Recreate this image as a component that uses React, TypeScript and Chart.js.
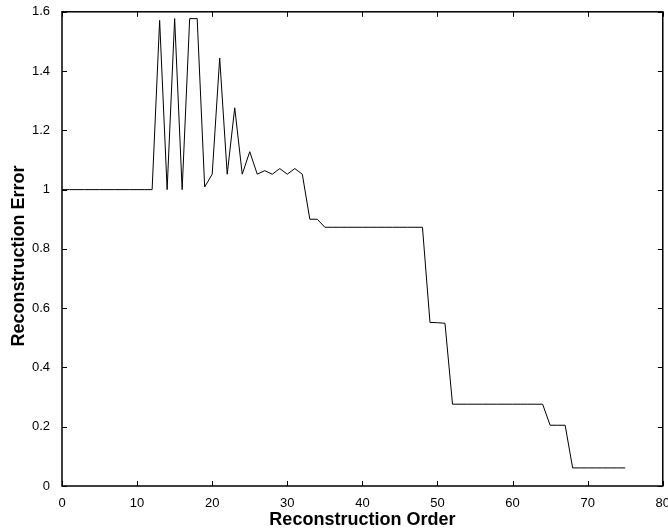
import React, { useEffect, useRef } from "react";
import { Chart, registerables } from "chart.js";

Chart.register(...registerables);

const orders = [
  0, 1, 2, 3, 4, 5, 6, 7, 8, 9, 10, 11, 12, 13, 14, 15, 16, 17, 18, 19, 20,
  21, 22, 23, 24, 25, 26, 27, 28, 29, 30, 31, 32, 33, 34, 35, 36, 37, 38, 39,
  40, 41, 42, 43, 44, 45, 46, 47, 48, 49, 50, 51, 52, 53, 54, 55, 56, 57, 58,
  59, 60, 61, 62, 63, 64, 65, 66, 67, 68, 69, 70, 71, 72, 73, 74, 75,
];

const errors = [
  1, 1, 1, 1, 1, 1, 1, 1, 1, 1, 1, 1, 1,
  1.571, 1.0, 1.577, 1.0, 1.577, 1.577, 1.009, 1.052, 1.444, 1.052, 1.276,
  1.052, 1.128, 1.052, 1.064, 1.052, 1.071, 1.052, 1.071, 1.052, 0.9, 0.9,
  0.873, 0.873, 0.873, 0.873, 0.873, 0.873, 0.873, 0.873, 0.873, 0.873,
  0.873, 0.873, 0.873, 0.873,
  0.552, 0.551, 0.549,
  0.276, 0.276, 0.276, 0.276, 0.276, 0.276, 0.276, 0.276, 0.276, 0.276,
  0.276, 0.276, 0.276,
  0.205, 0.205, 0.205,
  0.061, 0.061, 0.061, 0.061, 0.061, 0.061, 0.061, 0.061,
];

const xTicks = [0, 10, 20, 30, 40, 50, 60, 70, 80];
const yTicks = [0, 0.2, 0.4, 0.6, 0.8, 1, 1.2, 1.4, 1.6];
const yTickLabels = ["0", "0.2", "0.4", "0.6", "0.8", "1", "1.2", "1.4", "1.6"];
const xTitle = "Reconstruction Order";
const yTitle = "Reconstruction Error";

const FONT = "'Liberation Sans', Arial, Helvetica, sans-serif";

const boxPlugin = {
  id: "matlabBox",
  afterDraw(chart: any) {
    const { ctx, chartArea, scales } = chart;
    const { left, right, top, bottom } = chartArea;
    ctx.save();
    ctx.strokeStyle = "#000";
    ctx.lineWidth = 1;
    const len = 5;
    ctx.beginPath();
    for (const v of xTicks) {
      const px = Math.round(scales.x.getPixelForValue(v)) + 0.5;
      ctx.moveTo(px, bottom);
      ctx.lineTo(px, bottom - len);
      ctx.moveTo(px, top);
      ctx.lineTo(px, top + len);
    }
    for (const v of yTicks) {
      const py = Math.round(scales.y.getPixelForValue(v)) + 0.5;
      ctx.moveTo(left, py);
      ctx.lineTo(left + len, py);
      ctx.moveTo(right, py);
      ctx.lineTo(right - len, py);
    }
    ctx.stroke();
    ctx.lineWidth = 1.5;
    ctx.strokeRect(left, top, right - left, bottom - top);

    // y-axis title (slightly below centre, as in the reference)
    const cy = (top + bottom) / 2 + 7;
    ctx.translate(19, cy);
    ctx.rotate(-Math.PI / 2);
    ctx.fillStyle = "#000";
    ctx.font = `bold 18px ${FONT}`;
    ctx.textAlign = "center";
    ctx.textBaseline = "middle";
    ctx.fillText(yTitle, 0, 0);
    ctx.restore();
  },
};

export default function App() {
  const ref = useRef<HTMLCanvasElement>(null);

  useEffect(() => {
    document.body.style.margin = "0";
    const canvas = ref.current!;
    const chart = new Chart(canvas, {
      type: "line",
      data: {
        datasets: [
          {
            data: orders.map((x, i) => ({ x, y: errors[i] })),
            borderColor: "#000",
            borderWidth: 1,
            pointRadius: 0,
            tension: 0,
            fill: false,
          },
        ],
      },
      options: {
        animation: false,
        responsive: false,
        maintainAspectRatio: false,
        layout: { padding: { top: 11, right: 0, left: 0, bottom: 0 } },
        plugins: {
          legend: { display: false },
          tooltip: { enabled: false },
        },
        scales: {
          x: {
            type: "linear",
            min: 0,
            max: 80,
            grid: { display: false },
            border: { display: false },
            ticks: {
              stepSize: 10,
              color: "#000",
              padding: 2,
              maxRotation: 0,
              font: { family: FONT, size: 13 },
            },
            title: {
              display: true,
              text: xTitle,
              color: "#000",
              padding: { top: 0, bottom: 0 },
              font: { family: FONT, size: 18, weight: "bold" },
            },
            afterFit(scale: any) {
              scale.height = 45;
            },
          },
          y: {
            min: 0,
            max: 1.6,
            grid: { display: false },
            border: { display: false },
            ticks: {
              stepSize: 0.2,
              color: "#000",
              padding: 4,
              font: { family: FONT, size: 13 },
              callback: (_v: any, i: number) => yTickLabels[i],
            },
            title: { display: false },
            afterFit(scale: any) {
              scale.width = 62;
            },
          },
        },
      },
      plugins: [boxPlugin],
    });
    return () => chart.destroy();
  }, []);

  return (
    <div style={{ width: 668, height: 531, overflow: "hidden", background: "#fff" }}>
      <canvas ref={ref} width={672} height={531} style={{ display: "block" }} />
    </div>
  );
}
